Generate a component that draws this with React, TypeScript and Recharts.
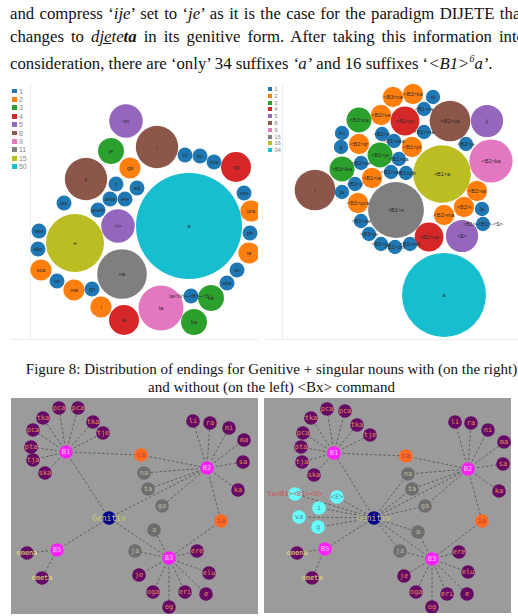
import React from "react";
import { ScatterChart, Scatter, XAxis, YAxis, ZAxis } from "recharts";

// d3 category10, one colour per distinct count
const CATEGORY10 = [
  "#1f77b4", "#ff7f0e", "#2ca02c", "#d62728", "#9467bd",
  "#8c564b", "#e377c2", "#7f7f7f", "#bcbd22", "#17becf",
];

// counts shown in the two legends
const COUNTS_LEFT = [1, 2, 3, 4, 5, 8, 9, 11, 15, 50];
const COUNTS_RIGHT = [1, 2, 3, 4, 5, 8, 9, 15, 16, 34];

type Bubble = { label: string; x: number; y: number; n: number };

// endings without <Bx> (left) — x/y read from the packed layout
const ENDINGS_LEFT: Bubble[] = [
  { label: "a", x: 189, y: 226, n: 50 },
  { label: "e", x: 75, y: 243, n: 15 },
  { label: "na", x: 122, y: 274, n: 11 },
  { label: "ta", x: 161, y: 308, n: 9 },
  { label: "i", x: 157, y: 147, n: 8 },
  { label: "ji", x: 86, y: 179, n: 8 },
  { label: "nn", x: 126, y: 121, n: 5 },
  { label: "<i>", x: 118, y: 226, n: 5 },
  { label: "og", x: 236, y: 167, n: 4 },
  { label: "la", x: 124, y: 320, n: 4 },
  { label: "je", x: 111, y: 151, n: 3 },
  { label: "ba", x: 194, y: 322, n: 3 },
  { label: "sa", x: 211, y: 298, n: 3 },
  { label: "ga", x: 130, y: 168, n: 2 },
  { label: "pra", x: 251, y: 211, n: 2 },
  { label: "ia", x: 249, y: 253, n: 2 },
  { label: "sca", x: 41, y: 270, n: 2 },
  { label: "ma", x: 74, y: 290, n: 2 },
  { label: "i", x: 101, y: 307, n: 2 },
  { label: "ni", x: 185, y: 155, n: 1 },
  { label: "ku", x: 200, y: 156, n: 1 },
  { label: "nca", x: 214, y: 162, n: 1 },
  { label: "cze", x: 244, y: 193, n: 1 },
  { label: "ph", x: 250, y: 233, n: 1 },
  { label: "sc", x: 237, y: 270, n: 1 },
  { label: "ska", x: 227, y: 283, n: 1 },
  { label: "ta<IV>~<B>~<S>", x: 191, y: 296, n: 1 },
  { label: "gn", x: 92, y: 289, n: 1 },
  { label: "ve", x: 57, y: 281, n: 1 },
  { label: "sko", x: 38, y: 249, n: 1 },
  { label: "ske", x: 39, y: 231, n: 1 },
  { label: "jes", x: 64, y: 203, n: 1 },
  { label: "ecetb", x: 98, y: 210, n: 1 },
  { label: "z", x: 116, y: 184, n: 1 },
  { label: "ed", x: 137, y: 188, n: 1 },
  { label: "ama", x: 110, y: 199, n: 1 },
  { label: "ere", x: 125, y: 199, n: 1 },
];

// endings with <Bx> (right)
const ENDINGS_RIGHT: Bubble[] = [
  { label: "a", x: 444, y: 295, n: 34 },
  { label: "<B1>a", x: 442, y: 174, n: 16 },
  { label: "<B1>e", x: 396, y: 210, n: 15 },
  { label: "<B2>ka", x: 491, y: 161, n: 9 },
  { label: "<B2>ca", x: 450, y: 121, n: 8 },
  { label: "i", x: 315, y: 190, n: 8 },
  { label: "ji", x: 487, y: 121, n: 5 },
  { label: "<E>", x: 462, y: 236, n: 5 },
  { label: "<B1>cy", x: 405, y: 121, n: 4 },
  { label: "<B2>na", x: 429, y: 237, n: 4 },
  { label: "<B3>ca", x: 359, y: 120, n: 3 },
  { label: "<B1>je", x: 380, y: 155, n: 3 },
  { label: "<B3>ika", x: 342, y: 169, n: 3 },
  { label: "<B3>ca", x: 393, y: 97, n: 2 },
  { label: "<B3>ka", x: 413, y: 94, n: 2 },
  { label: "<B2>ve", x: 381, y: 115, n: 2 },
  { label: "<B2>tz", x: 359, y: 144, n: 2 },
  { label: "<B1>pt", x: 412, y: 147, n: 2 },
  { label: "<B1>ta", x: 372, y: 178, n: 2 },
  { label: "<B3>pca", x: 358, y: 203, n: 2 },
  { label: "<B2>ta", x: 477, y: 191, n: 2 },
  { label: "<B2>i", x: 464, y: 207, n: 2 },
  { label: "<B2>ma", x: 444, y: 215, n: 2 },
  { label: "ni", x: 433, y: 97, n: 1 },
  { label: "<B1>ra", x: 424, y: 109, n: 1 },
  { label: "lm", x: 342, y: 133, n: 1 },
  { label: "g", x: 341, y: 147, n: 1 },
  { label: "<B2>e", x: 382, y: 134, n: 1 },
  { label: "<B1>ska", x: 394, y: 141, n: 1 },
  { label: "<B1>ma", x: 424, y: 132, n: 1 },
  { label: "<B2>je", x: 466, y: 144, n: 1 },
  { label: "<B2>ce", x: 361, y: 163, n: 1 },
  { label: "<B1>na", x: 399, y: 159, n: 1 },
  { label: "<B1>mo", x: 391, y: 172, n: 1 },
  { label: "<B1>pb", x: 406, y: 173, n: 1 },
  { label: "<B1>jt", x: 355, y: 184, n: 1 },
  { label: "ja", x: 342, y: 192, n: 1 },
  { label: "la", x: 482, y: 209, n: 1 },
  { label: "<B1>-<B1>-<S>", x: 483, y: 224, n: 1 },
  { label: "<B1>ce", x: 361, y: 221, n: 1 },
  { label: "<B3>je", x: 369, y: 234, n: 1 },
  { label: "<B1>ca", x: 381, y: 244, n: 1 },
  { label: "<B1>om", x: 395, y: 247, n: 1 },
  { label: "<B1>mb", x: 410, y: 244, n: 1 },
];

type GraphNode = { id: string; label: string; x: number; y: number; kind: string };

const NODES_LEFT: GraphNode[] = [
  { id: "gen", label: "Genitiv", x: 109, y: 518, kind: "hub" },
  { id: "b1", label: "B1", x: 66, y: 452, kind: "b" },
  { id: "b2", label: "B2", x: 207, y: 468, kind: "b" },
  { id: "b3", label: "B3", x: 169, y: 558, kind: "b" },
  { id: "b5", label: "B5", x: 57, y: 550, kind: "b" },
  { id: "ca", label: "ca", x: 141, y: 455, kind: "o" },
  { id: "ia", label: "ia", x: 221, y: 521, kind: "o" },
  { id: "na", label: "na", x: 144, y: 473, kind: "g" },
  { id: "ta", label: "ta", x: 148, y: 489, kind: "g" },
  { id: "ga", label: "ga", x: 162, y: 506, kind: "g" },
  { id: "a", label: "a", x: 154, y: 530, kind: "g" },
  { id: "ja", label: "ja", x: 135, y: 551, kind: "g" },
  { id: "p1", label: "pca", x: 59, y: 408, kind: "leaf" },
  { id: "p2", label: "pca", x: 78, y: 408, kind: "leaf" },
  { id: "p3", label: "tka", x: 43, y: 418, kind: "leaf" },
  { id: "p4", label: "tka", x: 93, y: 422, kind: "leaf" },
  { id: "p5", label: "tje", x: 103, y: 433, kind: "leaf" },
  { id: "p6", label: "pca", x: 33, y: 430, kind: "leaf" },
  { id: "p7", label: "pta", x: 31, y: 447, kind: "leaf" },
  { id: "p8", label: "tja", x: 33, y: 460, kind: "leaf" },
  { id: "p9", label: "ska", x: 45, y: 473, kind: "leaf" },
  { id: "q1", label: "li", x: 193, y: 421, kind: "leaf" },
  { id: "q2", label: "ra", x: 210, y: 423, kind: "leaf" },
  { id: "q3", label: "ni", x: 229, y: 428, kind: "leaf" },
  { id: "q4", label: "ma", x: 244, y: 440, kind: "leaf" },
  { id: "q5", label: "sa", x: 243, y: 462, kind: "leaf" },
  { id: "q6", label: "ka", x: 238, y: 490, kind: "leaf" },
  { id: "r1", label: "ere", x: 197, y: 551, kind: "leaf" },
  { id: "r2", label: "elu", x: 209, y: 573, kind: "leaf" },
  { id: "r3", label: "e", x: 206, y: 594, kind: "leaf" },
  { id: "r4", label: "eri", x: 185, y: 592, kind: "leaf" },
  { id: "r5", label: "og", x: 169, y: 607, kind: "leaf" },
  { id: "r6", label: "oga", x: 153, y: 592, kind: "leaf" },
  { id: "r7", label: "je", x: 139, y: 575, kind: "leaf" },
  { id: "s1", label: "omena", x: 27, y: 553, kind: "end" },
  { id: "s2", label: "ometa", x: 42, y: 578, kind: "end" },
];

const NODES_RIGHT: GraphNode[] = [
  { id: "gen", label: "Genitiv", x: 374, y: 518, kind: "hub" },
  { id: "b1", label: "B1", x: 334, y: 453, kind: "b" },
  { id: "b2", label: "B2", x: 468, y: 469, kind: "b" },
  { id: "b3", label: "B3", x: 432, y: 559, kind: "b" },
  { id: "b5", label: "B5", x: 325, y: 549, kind: "b" },
  { id: "ca", label: "ca", x: 406, y: 456, kind: "o" },
  { id: "ia", label: "ia", x: 482, y: 521, kind: "o" },
  { id: "na", label: "na", x: 408, y: 474, kind: "g" },
  { id: "ta", label: "ta", x: 412, y: 489, kind: "g" },
  { id: "ga", label: "ga", x: 425, y: 506, kind: "g" },
  { id: "a", label: "a", x: 418, y: 532, kind: "g" },
  { id: "ja", label: "ja", x: 400, y: 551, kind: "g" },
  { id: "c1", label: "ta<B1><B1><S>", x: 295, y: 494, kind: "cr" },
  { id: "c2", label: "<E>", x: 337, y: 497, kind: "c" },
  { id: "c3", label: "i", x: 319, y: 508, kind: "c" },
  { id: "c4", label: "va", x: 299, y: 517, kind: "c" },
  { id: "c5", label: "g", x: 318, y: 527, kind: "c" },
  { id: "p1", label: "pca", x: 327, y: 409, kind: "leaf" },
  { id: "p2", label: "pca", x: 345, y: 411, kind: "leaf" },
  { id: "p3", label: "tka", x: 311, y: 418, kind: "leaf" },
  { id: "p4", label: "tka", x: 357, y: 425, kind: "leaf" },
  { id: "p5", label: "tje", x: 370, y: 435, kind: "leaf" },
  { id: "p6", label: "pca", x: 303, y: 433, kind: "leaf" },
  { id: "p7", label: "pta", x: 301, y: 447, kind: "leaf" },
  { id: "p8", label: "tja", x: 302, y: 462, kind: "leaf" },
  { id: "p9", label: "ska", x: 314, y: 475, kind: "leaf" },
  { id: "q1", label: "li", x: 455, y: 422, kind: "leaf" },
  { id: "q2", label: "ra", x: 471, y: 423, kind: "leaf" },
  { id: "q3", label: "ni", x: 488, y: 430, kind: "leaf" },
  { id: "q4", label: "ma", x: 504, y: 442, kind: "leaf" },
  { id: "q5", label: "sa", x: 503, y: 464, kind: "leaf" },
  { id: "q6", label: "ka", x: 499, y: 491, kind: "leaf" },
  { id: "r1", label: "ere", x: 459, y: 552, kind: "leaf" },
  { id: "r2", label: "elu", x: 468, y: 572, kind: "leaf" },
  { id: "r3", label: "e", x: 467, y: 594, kind: "leaf" },
  { id: "r4", label: "eri", x: 447, y: 594, kind: "leaf" },
  { id: "r5", label: "og", x: 432, y: 607, kind: "leaf" },
  { id: "r6", label: "oga", x: 416, y: 592, kind: "leaf" },
  { id: "r7", label: "je", x: 404, y: 576, kind: "leaf" },
  { id: "s1", label: "omena", x: 297, y: 553, kind: "end" },
  { id: "s2", label: "ometa", x: 312, y: 578, kind: "end" },
];

const EDGES_COMMON: [string, string][] = [
  ["gen", "b1"], ["gen", "b2"], ["gen", "b3"], ["gen", "b5"],
  ["b1", "ca"], ["ca", "b2"], ["b2", "ia"], ["ia", "b3"],
  ["b2", "na"], ["b2", "ta"], ["b2", "ga"], ["b3", "a"], ["b3", "ja"],
  ["b1", "p1"], ["b1", "p2"], ["b1", "p3"], ["b1", "p4"], ["b1", "p5"],
  ["b1", "p6"], ["b1", "p7"], ["b1", "p8"], ["b1", "p9"],
  ["b2", "q1"], ["b2", "q2"], ["b2", "q3"], ["b2", "q4"], ["b2", "q5"], ["b2", "q6"],
  ["b3", "r1"], ["b3", "r2"], ["b3", "r3"], ["b3", "r4"], ["b3", "r5"], ["b3", "r6"], ["b3", "r7"],
  ["b5", "s1"], ["b5", "s2"],
];

const EDGES_LEFT: [string, string][] = EDGES_COMMON;

const EDGES_RIGHT: [string, string][] = [
  ...EDGES_COMMON,
  ["gen", "na"], ["gen", "ta"], ["gen", "ga"], ["gen", "a"], ["gen", "ja"],
  ["gen", "c1"], ["gen", "c2"], ["gen", "c3"], ["gen", "c4"], ["gen", "c5"],
];

const NODE_STYLE: Record<string, { fill: string; text: string; size: number }> = {
  hub: { fill: "#00008b", text: "#c8c872", size: 8 },
  b: { fill: "#ff22ff", text: "#f4c8f0", size: 7 },
  leaf: { fill: "#660a66", text: "#e09050", size: 7 },
  end: { fill: "#660a66", text: "#e8e070", size: 7 },
  o: { fill: "#ff6a22", text: "#b83838", size: 7 },
  g: { fill: "#6e6e6e", text: "#bcbca0", size: 7 },
  c: { fill: "#66ffff", text: "#5a8a9a", size: 7 },
  cr: { fill: "#66ffff", text: "#d05050", size: 7 },
};

const SERIF = '"Liberation Serif", "Times New Roman", serif';
const SANS = '"Liberation Sans", Arial, sans-serif';
const MONO = '"DejaVu Sans Mono", "Liberation Mono", monospace';

function BubblePanel({
  left, top, width, height, data, counts, maxR, legend, sepX,
}: {
  left: number; top: number; width: number; height: number;
  data: Bubble[]; counts: number[]; maxR: number;
  legend: { x: number; y: number; step: number; font: number };
  sepX: number;
}) {
  const maxN = counts[counts.length - 1];
  return (
    <div style={{ position: "absolute", left, top, width, height }}>
      <div style={{ position: "absolute", left: sepX - left, top: 0, width: 1, height, background: "#ececec" }} />
      <div style={{ position: "absolute", left: 0, top: height - 1, width, height: 1, background: "#ececec" }} />
      <ScatterChart width={width} height={height} margin={{ top: 0, right: 0, bottom: 0, left: 0 }}>
        <XAxis type="number" dataKey="x" domain={[left, left + width]} hide allowDataOverflow />
        <YAxis type="number" dataKey="y" domain={[top, top + height]} reversed hide allowDataOverflow />
        <ZAxis type="number" dataKey="n" domain={[0, maxN]} range={[0, Math.PI * maxR * maxR]} />
        <Scatter
          data={data}
          isAnimationActive={false}
          shape={(p: any) => (
            <circle cx={p.cx} cy={p.cy} r={p.width / 2} fill={CATEGORY10[counts.indexOf(p.payload.n)]} />
          )}
        />
        <Scatter
          data={data}
          isAnimationActive={false}
          shape={(p: any) => (
            <text x={p.cx} y={p.cy} dy="0.35em" textAnchor="middle" fontSize={5.5} fontFamily={SANS} fill="#2a2a2a">
              {p.payload.label}
            </text>
          )}
        />
      </ScatterChart>
      {counts.map((c, i) => (
        <div
          key={c}
          style={{
            position: "absolute",
            left: legend.x - left,
            top: legend.y - top + i * legend.step - legend.font / 2,
            height: legend.font,
            display: "flex",
            alignItems: "center",
            fontFamily: SANS,
            fontSize: legend.font,
            color: "#888",
            lineHeight: 1,
          }}
        >
          <span style={{ width: legend.font * 0.7, height: legend.font * 0.7, background: CATEGORY10[i], marginRight: 2 }} />
          {c}
        </div>
      ))}
    </div>
  );
}

function NetworkPanel({
  left, top, width, height, nodes, edges,
}: {
  left: number; top: number; width: number; height: number;
  nodes: GraphNode[]; edges: [string, string][];
}) {
  const byId: Record<string, GraphNode> = {};
  nodes.forEach((n) => (byId[n.id] = n));
  return (
    <div style={{ position: "absolute", left, top, width, height, background: "#9b9b9b" }}>
      <ScatterChart width={width} height={height} margin={{ top: 0, right: 0, bottom: 0, left: 0 }}>
        <XAxis type="number" dataKey="x" domain={[left, left + width]} hide allowDataOverflow />
        <YAxis type="number" dataKey="y" domain={[top, top + height]} reversed hide allowDataOverflow />
        {edges.map(([a, b], i) => (
          <Scatter
            key={i}
            data={[byId[a], byId[b]]}
            isAnimationActive={false}
            line={{ stroke: "#4e4e4e", strokeWidth: 0.8, strokeDasharray: "2.5 2" }}
            shape={() => <g />}
          />
        ))}
        <Scatter
          data={nodes}
          isAnimationActive={false}
          shape={(p: any) => {
            const st = NODE_STYLE[p.payload.kind];
            return (
              <g>
                <circle cx={p.cx} cy={p.cy} r={6.8} fill={st.fill} />
                <text x={p.cx} y={p.cy} dy="0.35em" textAnchor="middle" fontSize={st.size} fontFamily={MONO} fill={st.text}>
                  {p.payload.label}
                </text>
              </g>
            );
          }}
        />
      </ScatterChart>
    </div>
  );
}

const BODY_LINE = { width: 515, textAlign: "justify" as const, textAlignLast: "justify" as const };

export default function App() {
  return (
    <div style={{ position: "absolute", left: 0, top: 0, width: 518, height: 616, overflow: "hidden", background: "#fff" }}>
      <div
        style={{
          position: "absolute",
          left: 10,
          top: 3,
          whiteSpace: "nowrap",
          fontFamily: SERIF,
          fontSize: 16.75,
          lineHeight: "22.5px",
          color: "#111",
        }}
      >
        <div style={BODY_LINE}>and compress ‘<i>ije</i>’ set to ‘<i>je</i>’ as it is the case for the paradigm DIJETE that</div>
        <div style={BODY_LINE}>
          changes to <i>d<u>je</u>te<b>ta</b></i> in its genitive form. After taking this information into
        </div>
        <div>
          consideration, there are ‘only’ 34 suffixes <i>‘a’</i> and 16 suffixes ‘<i>&lt;B1&gt;<sup style={{ fontSize: 10 }}>6</sup>a’</i>.
        </div>
      </div>

      <BubblePanel
        left={10} top={83} width={248} height={257}
        data={ENDINGS_LEFT} counts={COUNTS_LEFT} maxR={53}
        legend={{ x: 12, y: 91, step: 8.4, font: 7 }}
        sepX={30}
      />
      <BubblePanel
        left={265} top={83} width={253} height={257}
        data={ENDINGS_RIGHT} counts={COUNTS_RIGHT} maxR={42}
        legend={{ x: 268, y: 89, step: 6.8, font: 6 }}
        sepX={282}
      />

      <div
        style={{
          position: "absolute",
          left: 11.5,
          width: 520,
          top: 360,
          textAlign: "center",
          whiteSpace: "nowrap",
          fontFamily: SERIF,
          fontSize: 15,
          lineHeight: "18px",
          color: "#111",
        }}
      >
        Figure 8: Distribution of endings for Genitive + singular nouns with (on the right)
        <br />
        and without (on the left) &lt;Bx&gt; command
      </div>

      <NetworkPanel left={11} top={398} width={247} height={216} nodes={NODES_LEFT} edges={EDGES_LEFT} />
      <NetworkPanel left={264} top={398} width={247} height={215} nodes={NODES_RIGHT} edges={EDGES_RIGHT} />
    </div>
  );
}
